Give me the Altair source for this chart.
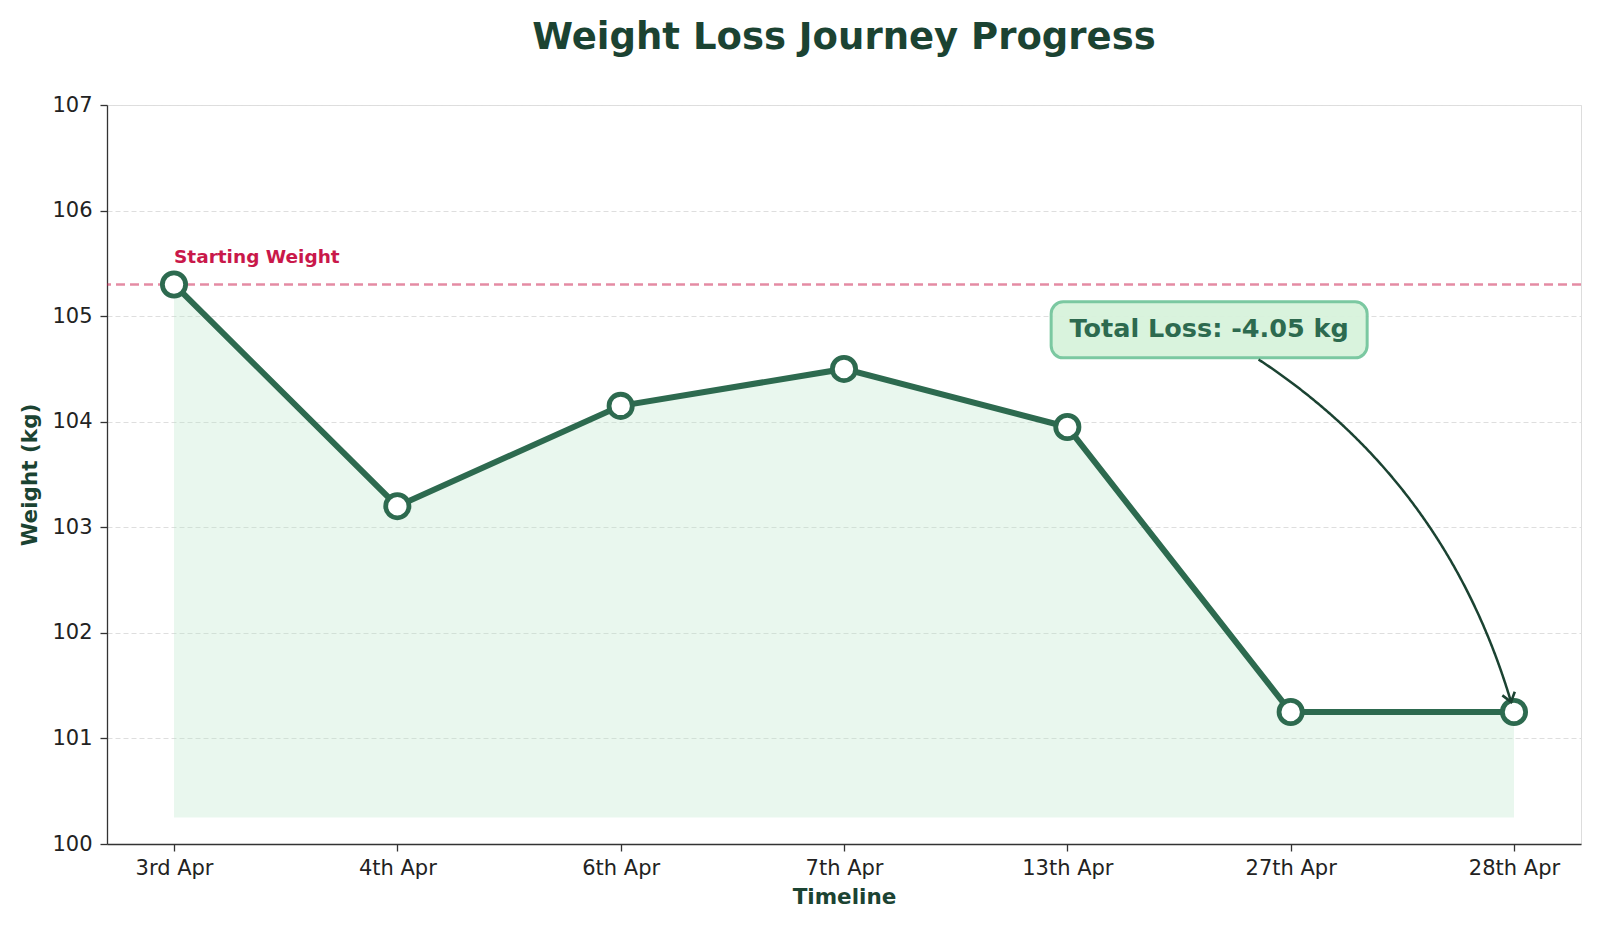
import altair as alt
import numpy as np
import pandas as pd

# data
dates = ["3rd Apr", "4th Apr", "6th Apr", "7th Apr", "13th Apr", "27th Apr", "28th Apr"]
weights = [105.3, 103.2, 104.15, 104.5, 103.95, 101.25, 101.25]
y_ticks = [100, 101, 102, 103, 104, 105, 106, 107]

start_weight = weights[0]
total_loss = weights[-1] - weights[0]
area_floor = min(weights) - 1

# plot area size and scale domains
W, H = 1474, 739
X_PAD = 0.3
x_dom = [-X_PAD, len(dates) - 1 + X_PAD]
y_dom = [y_ticks[0], y_ticks[-1]]

FONT = "DejaVu Sans"
DARK = "#1b4332"
GREEN = "#2d6a4f"

df = pd.DataFrame({
    "idx": list(range(len(dates))),
    "date": dates,
    "weight": weights,
    "floor": [area_floor] * len(dates),
})

# annotation anchor (centre of the "Total Loss" box), in data units
box_x, box_y = 4.635, 104.87
box_half_w, box_half_h = 158, 28


def to_px(i, v):
    return np.array([(i - x_dom[0]) / (x_dom[1] - x_dom[0]) * W,
                     (y_dom[1] - v) / (y_dom[1] - y_dom[0]) * H])


def to_data(p):
    return (x_dom[0] + p[0] / W * (x_dom[1] - x_dom[0]),
            y_dom[1] - p[1] / H * (y_dom[1] - y_dom[0]))


# curved arrow (arc3-like quadratic bezier) from the box to the last point
p0 = to_px(box_x, box_y)
p1 = to_px(len(dates) - 1, weights[-1])
d = p1 - p0
rad = 0.21
ctrl = (p0 + p1) / 2 + rad * np.array([d[1], -d[0]])
t = np.linspace(0, 1, 300)[:, None]
pts = (1 - t) ** 2 * p0 + 2 * (1 - t) * t * ctrl + t ** 2 * p1
keep = (pts[:, 1] >= p0[1] + box_half_h + 1) & (np.hypot(*(pts - p1).T) >= 10)
arc = pts[keep]
arc_t = t[keep][:, 0]
arrow_df = pd.DataFrame([dict(zip(["ax", "ay"], to_data(p)), order=k) for k, p in enumerate(arc)])
tip = arc[-1]
tt = arc_t[-1]
tan = 2 * (1 - tt) * (ctrl - p0) + 2 * tt * (p1 - ctrl)
head_angle = float(np.degrees(np.arctan2(tan[0], -tan[1]))) % 360
tip_x, tip_y = to_data(tip)

label_expr = "[" + ",".join(f"'{s}'" for s in dates) + "][datum.value]"

x_enc = alt.X("idx:Q", scale=alt.Scale(domain=x_dom, nice=False, zero=False),
              axis=alt.Axis(values=list(range(len(dates))), labelExpr=label_expr,
                            title="Timeline", grid=False, tickSize=7, labelPadding=6,
                            labelFontSize=21, labelFont=FONT, labelColor="#222222",
                            labelFlush=False, labelOverlap=False,
                            titleFont=FONT, titleFontSize=21.5, titleFontWeight="bold",
                            titleColor=DARK, titlePadding=8,
                            domainColor="#333333", domainWidth=1.3,
                            tickColor="#333333", tickWidth=1.3))
y_scale = alt.Scale(domain=y_dom, nice=False, zero=False)
y_enc = alt.Y("weight:Q", scale=y_scale,
              axis=alt.Axis(values=y_ticks, format="d", title="Weight (kg)",
                            grid=True, gridDash=[5, 3], gridColor="#dedede", gridWidth=1,
                            tickSize=7, labelPadding=8, labelFontSize=21, labelFont=FONT,
                            labelColor="#222222", titleFont=FONT, titleFontSize=21.5,
                            titleFontWeight="bold", titleColor=DARK, titlePadding=10,
                            domainColor="#333333", domainWidth=1.3,
                            tickColor="#333333", tickWidth=1.3))

base = alt.Chart(df)

area = base.mark_area(color="#b7e4c7", opacity=0.3).encode(
    x=x_enc, y=y_enc, y2="floor:Q")

start_rule = alt.Chart(pd.DataFrame({"w": [start_weight]})).mark_rule(
    color="#c9184a", opacity=0.5, strokeWidth=2.5, strokeDash=[9, 5]
).encode(y=alt.Y("w:Q", scale=y_scale))

start_text = alt.Chart(pd.DataFrame({"i": [0], "w": [start_weight + 0.2],
                                     "t": ["Starting Weight"]})).mark_text(
    align="left", baseline="alphabetic", font=FONT, fontSize=18.5, fontWeight="bold",
    color="#c9184a"
).encode(x="i:Q", y=alt.Y("w:Q", scale=y_scale), text="t:N")

line = base.mark_line(color=GREEN, strokeWidth=6).encode(x="idx:Q", y="weight:Q")

points = base.mark_point(shape="circle", filled=True, fill="white", stroke=GREEN,
                         strokeWidth=4.8, size=540, opacity=1).encode(
    x="idx:Q", y="weight:Q")

box_df = pd.DataFrame({"bx": [box_x], "by": [box_y],
                       "t": [f"Total Loss: {total_loss:.2f} kg"]})
box = alt.Chart(box_df).mark_rect(
    fill="#d8f3dc", stroke="#74c69d", strokeWidth=3, cornerRadius=12, opacity=0.95,
    xOffset=-box_half_w, x2Offset=box_half_w, yOffset=-box_half_h, y2Offset=box_half_h
).encode(x="bx:Q", x2="bx:Q", y=alt.Y("by:Q", scale=y_scale), y2="by:Q")
box_text = alt.Chart(box_df).mark_text(
    align="center", baseline="alphabetic", dy=7, font=FONT, fontSize=25.5,
    fontWeight="bold", color=GREEN
).encode(x="bx:Q", y=alt.Y("by:Q", scale=y_scale), text="t:N")

arrow = alt.Chart(arrow_df).mark_line(color=DARK, strokeWidth=2.5).encode(
    x="ax:Q", y=alt.Y("ay:Q", scale=y_scale), order="order:Q")
arrow_head = alt.Chart(pd.DataFrame({"hx": [tip_x], "hy": [tip_y]})).mark_point(
    shape="M-0.75,1L0,0L0.75,1", filled=False, color=DARK, strokeWidth=2.6,
    size=300, angle=head_angle, opacity=1
).encode(x="hx:Q", y=alt.Y("hy:Q", scale=y_scale))

chart = alt.layer(
    area, start_rule, line, points, start_text, box, box_text, arrow, arrow_head
).properties(
    width=W, height=H,
    autosize=alt.AutoSizeParams(type="none"),
    padding={"left": 99, "top": 97, "right": 8, "bottom": 70},
    title=alt.TitleParams("Weight Loss Journey Progress", font=FONT, fontSize=37,
                          fontWeight="bold", color=DARK, anchor="middle", offset=37),
).configure_view(fill="#fbfbfb", stroke=None).configure(background="white")

chart.save("out.html", embed_options={"renderer": "svg", "actions": False})
